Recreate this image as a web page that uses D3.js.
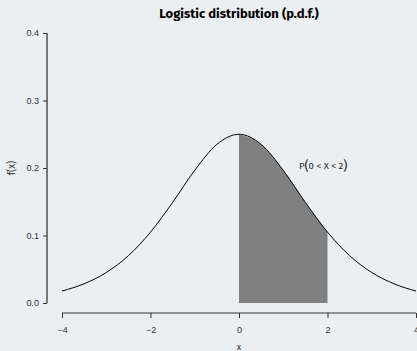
<!DOCTYPE html>
<html>
<head>
<meta charset="utf-8">
<script src="https://cdn.jsdelivr.net/npm/d3@7"></script>
<style>
  body { margin: 0; background: #eceff1; }
  svg { display: block; font-family: "Fira Sans", "Open Sans", "Noto Sans", sans-serif; }
</style>
</head>
<body>
<div id="chart"></div>
<script>
// density values, x from -4 to 4
var xs = [-4, -3.5, -3, -2.5, -2, -1.5, -1, -0.5, 0, 0.5, 1, 1.5, 2, 2.5, 3, 3.5, 4];
var fx = [0.0177, 0.0285, 0.0452, 0.0701, 0.105, 0.149, 0.1966, 0.235, 0.25, 0.235, 0.1966, 0.149, 0.105, 0.0701, 0.0452, 0.0285, 0.0177];
var xTicks = [-4, -2, 0, 2, 4];
var yTicks = [0, 0.1, 0.2, 0.3, 0.4];
var shadeFrom = 0, shadeTo = 2;

var width = 417, height = 351;

var x = d3.scaleLinear().domain([-4, 4]).range([62, 416]);
var y = d3.scaleLinear().domain([0, 0.4]).range([303, 33]);

var svg = d3.select("#chart").append("svg")
    .attr("width", width)
    .attr("height", height);

var pts = xs.map(function(d, i){ return {x: d, y: fx[i]}; });

// shaded area
var shade = pts.filter(function(d){ return d.x >= shadeFrom && d.x <= shadeTo; });
svg.append("path")
    .datum(shade)
    .attr("fill", "#808080")
    .attr("d", d3.area()
        .curve(d3.curveMonotoneX)
        .x(function(d){ return x(d.x); })
        .y0(y(0))
        .y1(function(d){ return y(d.y); }));

// curve
svg.append("path")
    .datum(pts)
    .attr("fill", "none")
    .attr("stroke", "#000")
    .attr("stroke-width", 1)
    .attr("d", d3.line()
        .curve(d3.curveMonotoneX)
        .x(function(d){ return x(d.x); })
        .y(function(d){ return y(d.y); }));

// x axis
var xAxis = svg.append("g")
    .attr("transform", "translate(0,313)")
    .call(d3.axisBottom(x).tickValues(xTicks).tickSize(5).tickSizeOuter(0).tickFormat(d3.format("d")));
xAxis.select(".domain").attr("stroke", "#333").attr("d", "M" + x(-4) + ",0H" + x(4));
xAxis.selectAll(".tick line").attr("stroke", "#333");
xAxis.selectAll("text").attr("font-size", 9).attr("fill", "#333").attr("dy", "1.3em").attr("font-family", "inherit");

// y axis
var yAxis = svg.append("g")
    .attr("transform", "translate(47,0)")
    .call(d3.axisLeft(y).tickValues(yTicks).tickSize(4).tickSizeOuter(0).tickFormat(d3.format(".1f")));
yAxis.select(".domain").attr("stroke", "#000").attr("d", "M0," + y(0) + "V" + y(0.4));
yAxis.selectAll(".tick line").attr("stroke", "#333");
yAxis.selectAll("text").attr("font-size", 9).attr("fill", "#333").attr("x", -8).attr("font-family", "inherit");

// labels
svg.append("text")
    .attr("x", 239).attr("y", 18)
    .attr("text-anchor", "middle")
    .attr("font-size", 13).attr("font-weight", "bold")
    .text("Logistic distribution (p.d.f.)");

svg.append("text")
    .attr("x", 239).attr("y", 350)
    .attr("text-anchor", "middle")
    .attr("font-size", 9).attr("fill", "#333")
    .text("x");

svg.append("text")
    .attr("transform", "translate(15,168) rotate(-90)")
    .attr("text-anchor", "middle")
    .attr("font-size", 10).attr("fill", "#333")
    .text("f(x)");

var lab = svg.append("text")
    .attr("x", 299).attr("y", 169)
    .attr("font-size", 9.5).attr("fill", "#222");
lab.append("tspan").text("P");
lab.append("tspan").attr("font-size", 12.5).attr("dy", 1).text("(");
lab.append("tspan").attr("font-size", 9.5).attr("dy", -1).text("0 < X < 2");
lab.append("tspan").attr("font-size", 12.5).attr("dy", 1).text(")");
</script>
</body>
</html>
